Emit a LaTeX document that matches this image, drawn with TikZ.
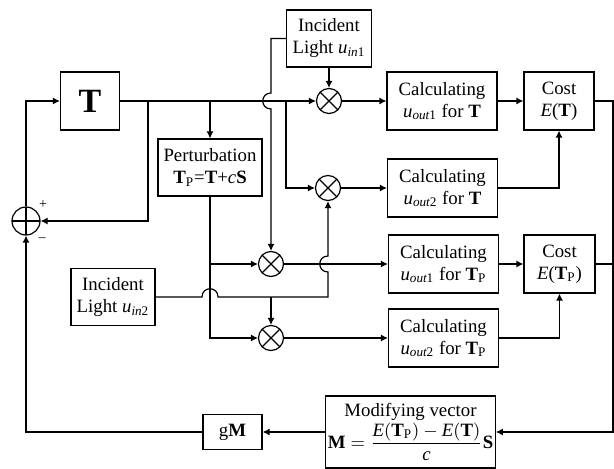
\documentclass[tikz,border=0pt]{standalone}
\usepackage{fontspec}
\setmainfont{Liberation Serif}
\usetikzlibrary{arrows.meta, positioning}

\begin{document}
\begin{tikzpicture}[x=0.5pt, y=-0.5pt, line width=0.6pt, >={Latex[length=3.5pt,width=3.5pt]}]

\tikzset{block/.style = {draw, rectangle, align=center, inner sep=1pt, minimum width=55pt, minimum height=29pt, font=\fontsize{9.4}{11}\selectfont}}
\tikzset{mult/.style = {draw, circle, inner sep=0pt, minimum size=12.5pt, path picture={\draw (path picture bounding box.south west) -- (path picture bounding box.north east) (path picture bounding box.north west) -- (path picture bounding box.south east);}}}
\tikzset{summer/.style = {draw, circle, inner sep=0pt, minimum size=14pt, path picture={\draw (path picture bounding box.west) -- (path picture bounding box.east) (path picture bounding box.north) -- (path picture bounding box.south);}}}
\tikzset{sign/.style = {font=\fontsize{7}{8}\selectfont, inner sep=0pt}}

\useasboundingbox (0,0) rectangle (614,469);

% blocks
\node[block, minimum width=29.5pt, font=\fontsize{17}{20}\selectfont\bfseries] (T) at (90,101) {T};
\node[block, minimum width=52pt, minimum height=28.5pt] (pert) at (210,167.5) {Perturbation\\ $\mathbf{T}_{\mathrm{P}}$=$\mathbf{T}$+$\mathit{c}\mathbf{S}$};
\node[block, minimum width=42.5pt, minimum height=28.5pt] (in1) at (329,38.5) {Incident\\ Light $\mathit{u}_{\mathit{in}\mathrm{1}}$};
\node[block, minimum width=42pt, minimum height=28.5pt] (in2) at (113,297) {Incident\\ Light $\mathit{u}_{\mathit{in}\mathrm{2}}$};
\node[block] (c1T) at (442,101) {Calculating\\ $\mathit{u}_{\mathit{out}\mathrm{1}}$ for $\mathbf{T}$};
\node[block] (c2T) at (442.5,188) {Calculating\\ $\mathit{u}_{\mathit{out}\mathrm{2}}$ for $\mathbf{T}$};
\node[block, minimum width=35pt] (costT) at (559,101) {Cost\\ $\mathit{E}$($\mathbf{T}$)};
\node[block] (c1P) at (443.5,264) {Calculating\\ $\mathit{u}_{\mathit{out}\mathrm{1}}$ for $\mathbf{T}_{\mathrm{P}}$};
\node[block, minimum width=35.5pt] (costP) at (559.5,264) {Cost\\ $\mathit{E}$($\mathbf{T}_{\mathrm{P}}$)};
\node[block] (c2P) at (443.5,338) {Calculating\\ $\mathit{u}_{\mathit{out}\mathrm{2}}$ for $\mathbf{T}_{\mathrm{P}}$};
\node[block, minimum width=80.5pt, minimum height=36pt] (mod) at (410.5,432) {Modifying vector\\ $\mathbf{M}=\displaystyle\frac{\mathit{E}(\mathbf{T}_{\mathrm{P}})-\mathit{E}(\mathbf{T})}{\mathit{c}}\mathbf{S}$};
\node[block, minimum width=29.5pt, minimum height=17.5pt] (gM) at (232.5,432) {g$\mathbf{M}$};

% multipliers and summer
\node[mult] (m1) at (329,101) {};
\node[mult] (m2) at (328,188) {};
\node[mult] (m3) at (271,264) {};
\node[mult] (m4) at (271,338) {};
\node[summer] (sum) at (26,221) {};
\node[sign] (plus) at (43,205) {+};
\node[sign] (minus) at (42,240) {--};

% junctions
\coordinate (jF) at (148,101);
\coordinate (jP) at (210,101);
\coordinate (jB) at (286,101);
\coordinate (jL) at (271,38.5);
\coordinate (jQ) at (210,264);
\coordinate (jU) at (271,297);
\coordinate (jR) at (613,101);

%edges
\draw[->] (T) -- (m1);
\draw[->] (jP) -- (pert);
\draw[->] (jF) |- (sum);
\draw[->] (sum) |- (T);
\draw[->] (in1) -- (m1);
\draw[->] (in1) -- (jL) -- (271,93) .. controls (260,93) and (260,109) .. (271,109) -- (m3);
\draw[->] (jB) |- (m2);
\draw[->] (m1) -- (c1T);
\draw[->] (m2) -- (c2T);
\draw[->] (c1T) -- (costT);
\draw[->] (c2T) -| (costT);
\draw[->] (costT) -- (jR) |- (mod);
\draw (costP) -- (costP -| jR);
\draw[->] (pert) |- (m4);
\draw[->] (jQ) -- (m3);
\draw[->] (in2) -- (202,297) .. controls (202,286) and (218,286) .. (218,297) -- (328,297) -- (328,272) .. controls (317,272) and (317,256) .. (328,256) -- (m2);
\draw[->] (jU) -- (m4);
\draw[->] (m3) -- (c1P);
\draw[->] (m4) -- (c2P);
\draw[->] (c1P) -- (costP);
\draw[->] (c2P) -| (costP);
\draw[->] (mod) -- (gM);
\draw[->] (gM) -| (sum);
\end{tikzpicture}
\end{document}
